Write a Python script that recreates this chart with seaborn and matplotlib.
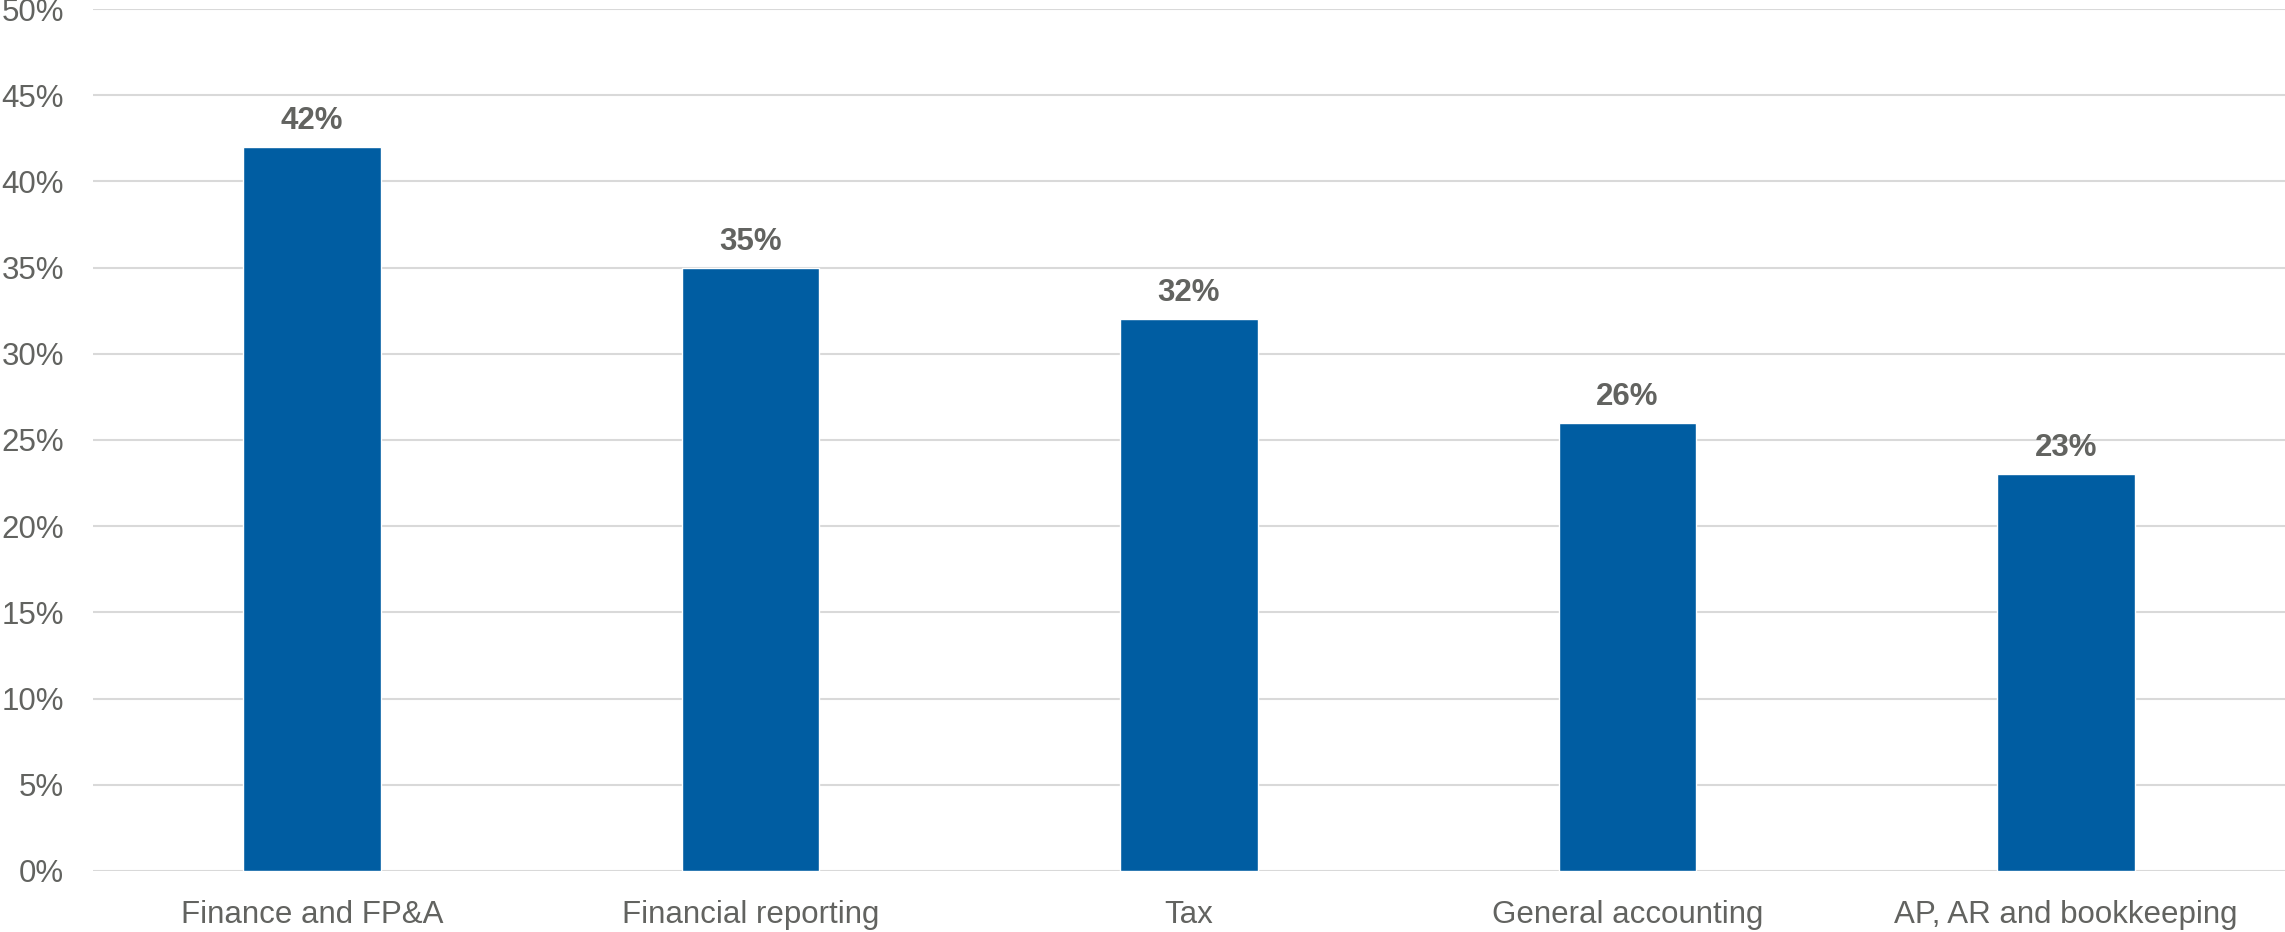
import matplotlib
matplotlib.use("Agg")
import matplotlib.pyplot as plt
import seaborn as sns
import pandas as pd
from matplotlib.ticker import FuncFormatter

# data
categories = ["Finance and FP&A", "Financial reporting", "Tax",
              "General accounting", "AP, AR and bookkeeping"]
shares = [42, 35, 32, 26, 23]
y_ticks = [0, 5, 10, 15, 20, 25, 30, 35, 40, 45, 50]

df = pd.DataFrame({"Category": categories, "Share": shares})

sns.set_theme(style="white")
plt.rcParams["font.family"] = ["Liberation Sans", "DejaVu Sans"]

text_grey = "#626360"
bar_blue = "#005DA2"

fig = plt.figure(figsize=(22.85, 9.32), dpi=100)
ax = fig.add_axes([0.0407, 0.0655, 0.9593, 0.9248])

sns.barplot(data=df, x="Category", y="Share", color=bar_blue,
            width=0.314, saturation=1, ax=ax, zorder=3)

ax.set_ylim(0, 50)
ax.set_xlim(-0.5, len(categories) - 0.5)
ax.set_yticks(y_ticks)
ax.yaxis.set_major_formatter(FuncFormatter(lambda v, p: f"{v:.0f}%"))
ax.grid(axis="y", color="#D9D9D9", linewidth=1.5, zorder=0)
ax.grid(axis="x", visible=False)
for s in ax.spines.values():
    s.set_visible(False)

ax.tick_params(axis="y", length=0, pad=21, labelsize=22.5, labelcolor=text_grey)
ax.tick_params(axis="x", length=0, pad=21, labelsize=22.5, labelcolor=text_grey)
ax.set_xlabel("")
ax.set_ylabel("")

ax.bar_label(ax.containers[0], labels=[f"{v}%" for v in shares],
             padding=8, fontsize=22.5, fontweight="bold", color=text_grey)

fig.savefig("out.png", dpi=100)
